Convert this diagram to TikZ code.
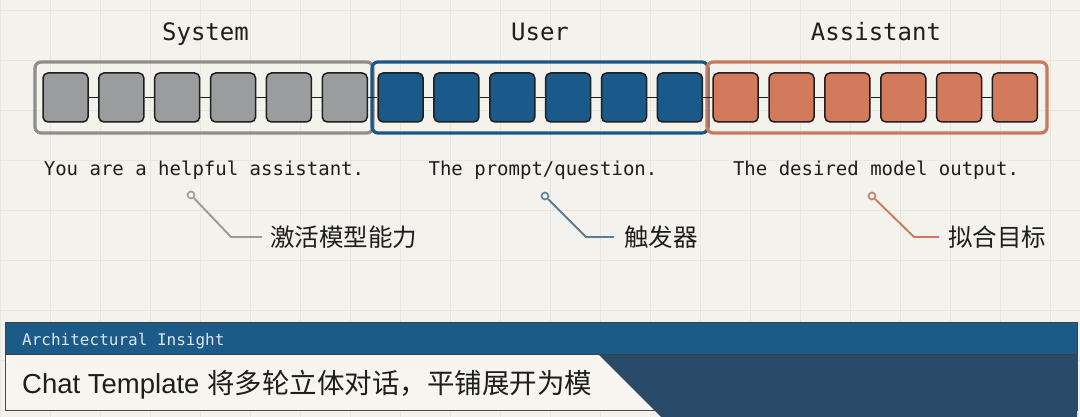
\documentclass[tikz,border=0pt]{standalone}
\usepackage{fontspec}
\setmonofont{DejaVu Sans Mono}
\newfontfamily\cjk{Noto Sans CJK SC}
\newfontfamily\lib{Liberation Sans}
\usetikzlibrary{calc}
\definecolor{bg}{HTML}{F3F2EC}
\definecolor{gridc}{HTML}{E7E6DF}
\definecolor{ink}{HTML}{1E1E1E}
\definecolor{sysfill}{HTML}{9A9C9E}
\definecolor{sysframe}{HTML}{8E8E8E}
\definecolor{usrfill}{HTML}{1A5A8A}
\definecolor{usrframe}{HTML}{1D5683}
\definecolor{astfill}{HTML}{D47A5C}
\definecolor{astframe}{HTML}{C97A5C}
\definecolor{cgray}{HTML}{9A9A9A}
\definecolor{cblue}{HTML}{5D7C96}
\definecolor{corange}{HTML}{C97B60}
\definecolor{hdr}{HTML}{1C5A88}
\definecolor{hdrtext}{HTML}{DDE6EE}
\definecolor{darkreg}{HTML}{2A4A69}
\definecolor{panelbg}{HTML}{F6F5F0}
\begin{document}
\begin{tikzpicture}[x=1pt,y=-1pt,
  tok/.style={draw=ink, line width=1.5, rounded corners=5, minimum width=45, minimum height=49, inner sep=0},
  link/.style={draw=ink, line width=1.6},
  frame/.style={line width=3.2, rounded corners=6},
  title/.style={font=\ttfamily\fontsize{24}{28}\selectfont, text=ink, inner sep=0, anchor=base},
  desc/.style={font=\ttfamily\fontsize{19}{22}\selectfont, text=ink, inner sep=0, anchor=base},
  dot/.style={circle, fill=bg, line width=1.6, minimum size=7, inner sep=0},
  cline/.style={line width=1.9},
  clabel/.style={font=\cjk\fontsize{24.5}{28}\selectfont, text=ink, inner sep=0, anchor=west}
]
\useasboundingbox (0,0) rectangle (1080,417);
\fill[bg] (0,0) rectangle (1080,417);
\foreach \x in {0,50,...,1050} \draw[gridc, line width=0.7] (\x,0) -- (\x,417);
\foreach \y in {10,60,...,410} \draw[gridc, line width=0.7] (0,\y) -- (1080,\y);

% group frames
\draw[frame, draw=sysframe] (35,62) rectangle (373,133);
\draw[frame, draw=usrframe] (372,62) rectangle (708,133);
\draw[frame, draw=astframe] (707,62) rectangle (1047,133);

% tokens
\foreach \i in {1,...,6}
  \node[tok, fill=sysfill] (k\i) at ({43+(\i-1)*55.85+22.5},97.5) {};
\foreach \i in {7,...,12}
  \node[tok, fill=usrfill] (k\i) at ({43+(\i-1)*55.85+22.5},97.5) {};
\foreach \i in {13,...,18}
  \node[tok, fill=astfill] (k\i) at ({43+(\i-1)*55.85+22.5},97.5) {};
\foreach \i [evaluate=\i as \j using int(\i+1)] in {1,...,17}
  \draw[link] (k\i.east) -- (k\j.west);

% titles
\node[title] (tsys) at (205.5,41) {System};
\node[title] (tusr) at (540,41) {User};
\node[title] (tast) at (876,41) {Assistant};

% descriptions
\node[desc] (dsys) at (204,176) {You are a helpful assistant.};
\node[desc] (dusr) at (543,176) {The prompt/question.};
\node[desc] (dast) at (876,176) {The desired model output.};

% callouts
\node[dot, draw=cgray] (c1) at (191,195) {};
\coordinate (b1) at (231,237);
\node[clabel] (l1) at (270,237) {激活模型能力};
\draw[cline, cgray] (c1) -- (b1) -- ([xshift=-8]l1.west);

\node[dot, draw=cblue] (c2) at (545,196) {};
\coordinate (b2) at (586,237);
\node[clabel] (l2) at (624,237) {触发器};
\draw[cline, cblue] (c2) -- (b2) -- ([xshift=-10]l2.west);

\node[dot, draw=corange] (c3) at (872,196) {};
\coordinate (b3) at (914,237);
\node[clabel] (l3) at (948,237) {拟合目标};
\draw[cline, corange] (c3) -- (b3) -- ([xshift=-9]l3.west);

% bottom panel
\draw[fill=panelbg, draw=ink!80, line width=1] (5,322) rectangle (1077,410);
\fill[darkreg] (598,354) -- (1077,354) -- (1077,417) -- (661,417) -- cycle;
\draw[fill=hdr, draw=ink!85, line width=1] (5,322) rectangle (1077,354);
\node[anchor=base west, inner sep=0, font=\ttfamily\fontsize{16}{18}\selectfont, text=hdrtext] (hd) at (22,345) {Architectural Insight};
\node[anchor=base west, inner sep=0, font=\fontsize{27.5}{32}\selectfont, text=ink] (body) at (22,393) {{\lib Chat Template }{\cjk 将多轮立体对话，平铺展开为模}};
\end{tikzpicture}
\end{document}
